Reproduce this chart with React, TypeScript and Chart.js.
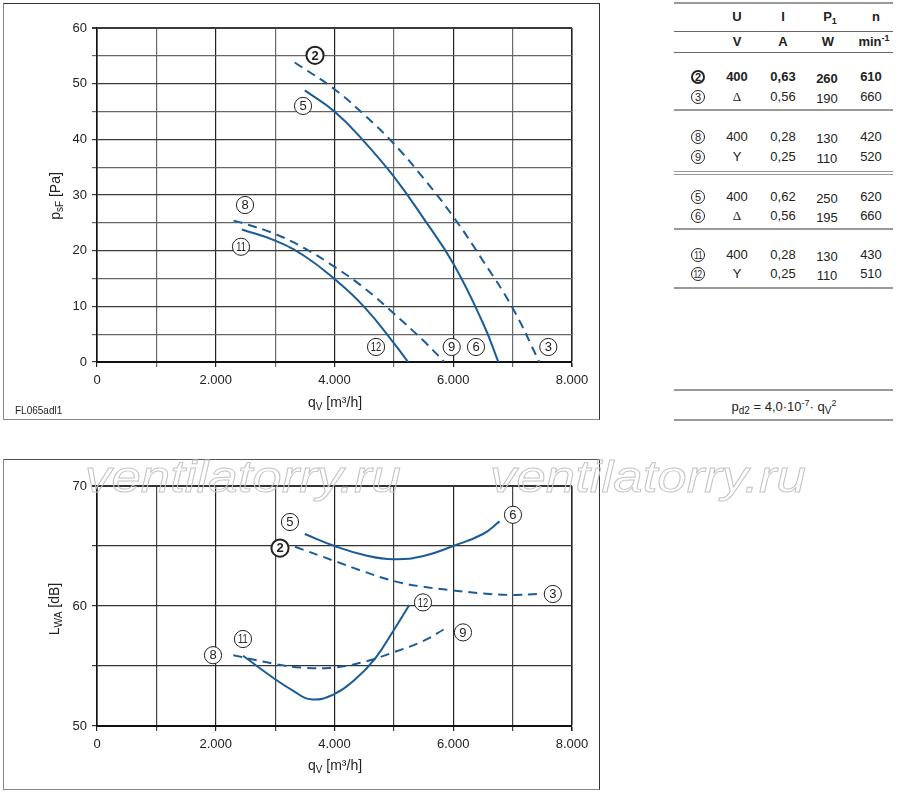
import React, { useEffect, useRef } from 'react';
import { Chart, registerables } from 'chart.js';

Chart.register(...registerables);
Chart.defaults.font.family = '"Liberation Sans", Arial, sans-serif';

const BLUE = '#1a5b98';
const FONT = '"Liberation Sans", Arial, sans-serif';

// ---- Top chart: static pressure p_sF [Pa] vs q_V [m³/h]
const P_Q_2 = [3330, 4000, 4500, 5000, 5500, 6000, 6500, 7000, 7450];
const P_V_2 = [53.8, 49.0, 44.4, 39.2, 33.0, 26.1, 18.2, 9.7, 0];
const P_Q_5 = [3500, 4000, 4500, 5000, 5500, 6000, 6500, 6760];
const P_V_5 = [48.8, 45.0, 39.6, 33.3, 25.8, 17.7, 7.0, 0];
const P_Q_8 = [2300, 2500, 3000, 3500, 4000, 4500, 5000, 5500, 5850];
const P_V_8 = [25.4, 24.8, 23.0, 20.4, 17.1, 13.3, 8.7, 3.8, 0];
const P_Q_11 = [2440, 3000, 3500, 4000, 4500, 5000, 5240];
const P_V_11 = [23.8, 21.8, 19.0, 14.9, 9.9, 3.4, 0];

const P_LABEL_TEXT = ['2', '5', '8', '11', '12', '9', '6', '3'];
const P_LABEL_Q = [3672, 3470, 2493, 2425, 4700, 5974, 6383, 7601];
const P_LABEL_V = [55.1, 46.0, 28.2, 20.7, 2.7, 2.7, 2.7, 2.7];

// ---- Bottom chart: sound power L_WA [dB] vs q_V [m³/h]
const L_Q_2 = [3335, 4000, 4500, 5000, 5500, 6000, 6500, 7000, 7440];
const L_V_2 = [64.94, 63.75, 62.86, 62.08, 61.6, 61.3, 61.05, 60.92, 61.0];
const L_Q_5 = [3500, 4000, 4500, 5000, 5500, 6000, 6500, 6780];
const L_V_5 = [66.0, 65.0, 64.25, 63.9, 64.17, 65.0, 66.0, 67.05];
const L_Q_8 = [2296, 3000, 3500, 4000, 4500, 5000, 5500, 5860];
const L_V_8 = [55.9, 55.17, 54.85, 54.88, 55.35, 56.15, 57.1, 58.1];
const L_Q_11 = [2460, 3000, 3300, 3600, 4000, 4350, 4680, 5000, 5260];
const L_V_11 = [55.85, 53.9, 52.95, 52.22, 52.67, 53.9, 55.6, 58.0, 60.08];

const L_LABEL_TEXT = ['5', '2', '6', '3', '12', '9', '11', '8'];
const L_LABEL_Q = [3250, 3082, 7006, 7677, 5490, 6164, 2458, 1954];
const L_LABEL_V = [67.0, 64.83, 67.6, 61.0, 60.3, 57.8, 57.25, 55.9];

// ---- Table
const TABLE_IDS = ['2', '3', '8', '9', '5', '6', '11', '12'];
const TABLE_U = ['400', 'Δ', '400', 'Y', '400', 'Δ', '400', 'Y'];
const TABLE_I = ['0,63', '0,56', '0,28', '0,25', '0,62', '0,56', '0,28', '0,25'];
const TABLE_P1 = ['260', '190', '130', '110', '250', '195', '130', '110'];
const TABLE_N = ['610', '660', '420', '520', '620', '660', '430', '510'];

const X_TICK_VALUES_LABELED = [0, 2000, 4000, 6000, 8000];

function fmtQ(v: number) {
  if (!X_TICK_VALUES_LABELED.includes(v)) return '';
  return v === 0 ? '0' : `${v / 1000}.000`;
}

type Series = { q: number[]; v: number[]; dashed: boolean };
type Label = { text: string; q: number; v: number; bold: boolean };

function labelPlugin(items: Label[]) {
  return {
    id: 'circleLabels',
    afterDatasetsDraw(chart: any) {
      const { ctx } = chart;
      const xs = chart.scales.x;
      const ys = chart.scales.y;
      items.forEach((it) => {
        const px = xs.getPixelForValue(it.q);
        const py = ys.getPixelForValue(it.v);
        ctx.save();
        ctx.beginPath();
        ctx.arc(px, py, 8.6, 0, Math.PI * 2);
        ctx.fillStyle = '#fff';
        ctx.fill();
        ctx.lineWidth = it.bold ? 2 : 1;
        ctx.strokeStyle = '#222';
        ctx.stroke();
        ctx.fillStyle = '#222';
        ctx.textAlign = 'center';
        ctx.textBaseline = 'middle';
        ctx.font = `${it.bold ? 'bold ' : ''}13px ${FONT}`;
        ctx.translate(px, py + 0.7);
        if (it.text.length > 1) ctx.scale(0.72, 1);
        ctx.fillText(it.text, 0, 0);
        ctx.restore();
      });
    },
  };
}

function buildConfig(p: {
  series: Series[];
  labels: Label[];
  yMin: number;
  yMax: number;
  padTop: number;
  xAxisH: number;
  yColor: (v: number) => string;
  xColor: (v: number) => string;
}): any {
  return {
    type: 'scatter',
    data: {
      datasets: p.series.map((s) => ({
        data: s.q.map((q, i) => ({ x: q, y: s.v[i] })),
        showLine: true,
        borderColor: BLUE,
        borderWidth: 2,
        borderDash: s.dashed ? [9, 6] : [],
        pointRadius: 0,
        tension: 0.45,
        fill: false,
      })),
    },
    options: {
      responsive: false,
      animation: false,
      events: [],
      layout: { padding: { left: 0, right: 28, top: p.padTop, bottom: 0 } },
      plugins: { legend: { display: false }, tooltip: { enabled: false } },
      scales: {
        x: {
          type: 'linear',
          min: 0,
          max: 8000,
          afterFit: (s: any) => {
            s.height = p.xAxisH;
          },
          ticks: {
            stepSize: 1000,
            autoSkip: false,
            maxRotation: 0,
            padding: 6,
            color: '#222',
            font: { size: 13 },
            callback: (v: any) => fmtQ(Number(v)),
          },
          grid: {
            color: (c: any) => p.xColor(c.tick ? c.tick.value : 0),
            tickColor: (c: any) => p.xColor(c.tick ? c.tick.value : 0),
            lineWidth: (c: any) => (c.tick && c.tick.value === 8000 ? 1.6 : 1.2),
            tickLength: 5,
          },
          border: { color: '#111', width: 2 },
        },
        y: {
          type: 'linear',
          min: p.yMin,
          max: p.yMax,
          afterFit: (s: any) => {
            s.width = 94;
          },
          ticks: {
            stepSize: 5,
            autoSkip: false,
            padding: 5,
            color: '#222',
            font: { size: 13 },
            callback: (v: any) => (Number(v) % 10 === 0 ? String(v) : ''),
          },
          grid: {
            color: (c: any) => p.yColor(c.tick ? c.tick.value : 0),
            tickColor: (c: any) => p.yColor(c.tick ? c.tick.value : 0),
            lineWidth: (c: any) => (c.tick && c.tick.value === p.yMax ? 2 : 1.2),
            tickLength: 5,
          },
          border: { color: '#111', width: 1.6 },
        },
      },
    },
    plugins: [labelPlugin(p.labels)],
  };
}

function makeLabels(t: string[], q: number[], v: number[]): Label[] {
  return t.map((text, i) => ({ text, q: q[i], v: v[i], bold: text === '2' }));
}

const abs = (left: number, top: number, extra: React.CSSProperties = {}): React.CSSProperties => ({
  position: 'absolute',
  left,
  top,
  ...extra,
});

function Circ({ id, size = 14 }: { id: string; size?: number }) {
  const bold = id === '2';
  return (
    <span
      style={{
        display: 'inline-flex',
        alignItems: 'center',
        justifyContent: 'center',
        width: size,
        height: size,
        borderRadius: '50%',
        border: `${bold ? 2 : 1}px solid #222`,
        boxSizing: 'border-box',
        fontSize: 11,
        fontWeight: bold ? 'bold' : 'normal',
        lineHeight: 1,
      }}
    >
      <span style={{ display: 'inline-block', transform: id.length > 1 ? 'scaleX(0.75)' : 'none', letterSpacing: id.length > 1 ? -0.5 : 0 }}>
        {id}
      </span>
    </span>
  );
}

function CText({ cx, cy, children, w = 80, style = {} }: any) {
  return (
    <div
      style={{
        position: 'absolute',
        left: cx - w / 2,
        top: cy - 8,
        width: w,
        height: 16,
        lineHeight: '16px',
        textAlign: 'center',
        whiteSpace: 'nowrap',
        ...style,
      }}
    >
      {children}
    </div>
  );
}

function HLine({ y, h = 1, color = '#888' }: { y: number; h?: number; color?: string }) {
  return <div style={abs(674, y, { width: 219, height: h, background: color })} />;
}

const ROW_Y = [77, 97, 137, 157, 197, 216, 255, 274];

export default function App() {
  const topRef = useRef<HTMLCanvasElement>(null);
  const botRef = useRef<HTMLCanvasElement>(null);

  useEffect(() => {
    const top = new Chart(
      topRef.current as HTMLCanvasElement,
      buildConfig({
        series: [
          { q: P_Q_2, v: P_V_2, dashed: true },
          { q: P_Q_5, v: P_V_5, dashed: false },
          { q: P_Q_8, v: P_V_8, dashed: true },
          { q: P_Q_11, v: P_V_11, dashed: false },
        ],
        labels: makeLabels(P_LABEL_TEXT, P_LABEL_Q, P_LABEL_V),
        yMin: 0,
        yMax: 60,
        padTop: 25,
        xAxisH: 58,
        yColor: (v) => (v % 10 === 0 ? '#3a3a3a' : '#666'),
        xColor: (v) => (v % 2000 === 0 ? '#222' : '#6a6a6a'),
      })
    );
    const bot = new Chart(
      botRef.current as HTMLCanvasElement,
      buildConfig({
        series: [
          { q: L_Q_2, v: L_V_2, dashed: true },
          { q: L_Q_5, v: L_V_5, dashed: false },
          { q: L_Q_8, v: L_V_8, dashed: true },
          { q: L_Q_11, v: L_V_11, dashed: false },
        ],
        labels: makeLabels(L_LABEL_TEXT, L_LABEL_Q, L_LABEL_V),
        yMin: 50,
        yMax: 70,
        padTop: 27,
        xAxisH: 64,
        yColor: () => '#333',
        xColor: (v) => (v % 2000 === 0 ? '#222' : '#444'),
      })
    );
    return () => {
      top.destroy();
      bot.destroy();
    };
  }, []);

  const sub: React.CSSProperties = { fontSize: 10, position: 'relative', top: 3, lineHeight: 0 };
  const sup: React.CSSProperties = { fontSize: 9, position: 'relative', top: -5, lineHeight: 0 };
  const waterStyle: React.CSSProperties = {
    fontFamily: FONT,
    fontStyle: 'italic',
    fontSize: 44,
    lineHeight: '44px',
    color: 'transparent',
    WebkitTextStroke: '0.9px #c4c4c4',
    whiteSpace: 'nowrap',
    transform: 'scaleX(1.2)',
    transformOrigin: 'left top',
    pointerEvents: 'none',
  } as any;

  return (
    <div
      style={{
        position: 'absolute',
        left: 0,
        top: 0,
        width: 900,
        height: 797,
        background: '#fff',
        fontFamily: FONT,
        color: '#222',
        fontSize: 13,
        overflow: 'hidden',
      }}
    >
      {/* top chart */}
      <canvas ref={topRef} width={597} height={417} style={abs(3, 3, { width: 597, height: 417 })} />
      <div
        style={abs(3, 3, {
          width: 597,
          height: 417,
          boxSizing: 'border-box',
          borderTop: '1.5px solid #333',
          borderRight: '1.5px solid #333',
          borderLeft: '1.5px solid #888',
          borderBottom: '1.5px solid #888',
        })}
      />
      <CText cx={335} cy={402} w={120} style={{ fontSize: 14 }}>
        q<span style={sub}>V</span> [m³/h]
      </CText>
      <div
        style={abs(55, 196, {
          transform: 'translate(-50%, -50%) rotate(-90deg)',
          whiteSpace: 'nowrap',
          fontSize: 14,
        })}
      >
        p<span style={sub}>sF</span> [Pa]
      </div>
      <div style={abs(15, 405, { fontSize: 10 })}>FL065adl1</div>

      {/* bottom chart */}
      <canvas ref={botRef} width={597} height={331} style={abs(3, 459, { width: 597, height: 331 })} />
      <div
        style={abs(3, 459, {
          width: 597,
          height: 331,
          boxSizing: 'border-box',
          borderTop: '1.5px solid #555',
          borderRight: '1.5px solid #333',
          borderLeft: '1.5px solid #888',
          borderBottom: '1.5px solid #888',
        })}
      />
      <CText cx={335} cy={765} w={120} style={{ fontSize: 14 }}>
        q<span style={sub}>V</span> [m³/h]
      </CText>
      <div
        style={abs(54, 609, {
          transform: 'translate(-50%, -50%) rotate(-90deg)',
          whiteSpace: 'nowrap',
          fontSize: 14,
        })}
      >
        L<span style={sub}>WA</span> [dB]
      </div>

      {/* watermark */}
      <div style={abs(85, 455, waterStyle)}>ventilatorry.ru</div>
      <div style={abs(490, 455, waterStyle)}>ventilatorry.ru</div>

      {/* table */}
      <HLine y={2} h={2} color="#999" />
      <CText cx={737} cy={17} style={{ fontWeight: 'bold' }}>U</CText>
      <CText cx={783} cy={17} style={{ fontWeight: 'bold' }}>I</CText>
      <CText cx={830} cy={17} style={{ fontWeight: 'bold' }}>
        P<span style={{ fontSize: 9, position: 'relative', top: 3, lineHeight: 0 }}>1</span>
      </CText>
      <CText cx={876} cy={17} style={{ fontWeight: 'bold' }}>n</CText>
      <HLine y={31} h={1} color="#666" />
      <CText cx={737} cy={42} style={{ fontWeight: 'bold' }}>V</CText>
      <CText cx={783} cy={42} style={{ fontWeight: 'bold' }}>A</CText>
      <CText cx={828} cy={42} style={{ fontWeight: 'bold' }}>W</CText>
      <CText cx={874} cy={42} style={{ fontWeight: 'bold' }}>
        min<span style={sup}>-1</span>
      </CText>
      <HLine y={52} h={1} color="#666" />
      {TABLE_IDS.map((id, i) => {
        const y = ROW_Y[i];
        const bold = i === 0 ? { fontWeight: 'bold' } : {};
        const uStyle =
          TABLE_U[i] === 'Δ' ? { fontFamily: '"Liberation Serif", "DejaVu Serif", serif', fontSize: 13 } : {};
        return (
          <React.Fragment key={id}>
            <div style={abs(691, y - 7, { width: 14, height: 14, display: 'flex' })}>
              <Circ id={id} />
            </div>
            <CText cx={737} cy={y} style={{ ...bold, ...uStyle }}>{TABLE_U[i]}</CText>
            <CText cx={783} cy={y} style={bold}>{TABLE_I[i]}</CText>
            <CText cx={827} cy={y + 1.5} style={bold}>{TABLE_P1[i]}</CText>
            <CText cx={871} cy={y} style={bold}>{TABLE_N[i]}</CText>
          </React.Fragment>
        );
      })}
      <HLine y={109} h={2} color="#999" />
      <HLine y={171} h={1} color="#999" />
      <HLine y={174} h={1} color="#999" />
      <HLine y={228} h={2} color="#999" />
      <HLine y={287} h={2} color="#999" />
      <HLine y={389} h={2} color="#999" />
      <CText cx={784} cy={407} w={160}>
        p<span style={sub}>d2</span> = 4,0·10<span style={sup}>-7</span>· q<span style={sub}>V</span>
        <span style={sup}>2</span>
      </CText>
      <HLine y={419} h={2} color="#999" />
    </div>
  );
}
